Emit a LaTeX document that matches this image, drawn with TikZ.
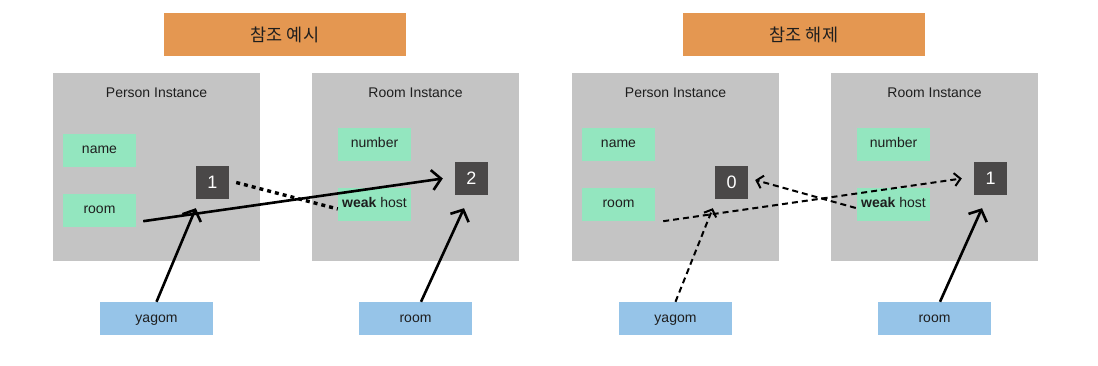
\documentclass[tikz,border=0pt]{standalone}
\usepackage{fontspec}
\setmainfont{Liberation Sans}
\newfontfamily\krfont{Noto Sans CJK KR}
\usetikzlibrary{arrows.meta}
\definecolor{titleorange}{HTML}{E49751}
\definecolor{boxgray}{HTML}{C4C4C4}
\definecolor{fieldgreen}{HTML}{93E6BF}
\definecolor{varblue}{HTML}{96C4E8}
\definecolor{countgray}{HTML}{4A4848}
\definecolor{textdark}{HTML}{1E1E1E}
\tikzset{
  every picture/.style={x=1pt, y=-1pt, line join=round},
  titlebox/.style={fill=titleorange, minimum width=242pt, minimum height=43pt, inner sep=0pt, text=textdark, font=\fontsize{17.5}{20}\selectfont\krfont},
  instance/.style={fill=boxgray, minimum width=207pt, minimum height=188pt, inner sep=0pt},
  caption/.style={text=textdark, inner sep=0pt, font=\fontsize{14}{16}\selectfont},
  field/.style={fill=fieldgreen, minimum width=73pt, minimum height=33pt, inner sep=0pt, text height=8pt, text depth=1pt, text=textdark, font=\fontsize{14}{16}\selectfont},
  counter/.style={fill=countgray, minimum size=33pt, inner sep=0pt, text=white, font=\fontsize{18}{21}\selectfont},
  varbox/.style={fill=varblue, minimum width=113pt, minimum height=33pt, inner sep=0pt, text height=8pt, text depth=1pt, text=textdark, font=\fontsize{14}{16}\selectfont},
  strong/.style={line width=2.6pt, -{Straight Barb[length=9pt,width=20pt,line width=2.6pt]}},
  weakdots/.style={line width=3.4pt, dash pattern=on 4pt off 4pt},
  released/.style={line width=2pt, dash pattern=on 6pt off 4pt, -{Straight Barb[length=6pt,width=13pt,line width=2pt]}},
}

\begin{document}
\begin{tikzpicture}
\useasboundingbox (0,0) rectangle (1098,366);

% reference example
\node[titlebox] (title1) at (285,34.5) {참조 예시};
\node[instance] (person1) at (156.5,167) {};
\node[caption] (plabel1) at ([yshift=-20pt]person1.north) {Person Instance};
\node[instance] (roominst1) at (415.5,167) {};
\node[caption] (rlabel1) at ([yshift=-20pt]roominst1.north) {Room Instance};
\node[field] (pname1) at (99.5,150.5) {name};
\node[field] (proom1) at (99.5,210.5) {room};
\node[counter] (pcount1) at (212.5,182.5) {1};
\node[field] (rnumber1) at (374.5,144.5) {number};
\node[field] (rhost1) at (374.5,204.5) {\textbf{weak} host};
\node[counter] (rcount1) at (471.5,178.5) {2};
\node[varbox] (yagom1) at (156.5,318.5) {yagom};
\node[varbox] (room1) at (415.5,318.5) {room};

\draw[strong] ([xshift=7pt,yshift=6pt]proom1.south east) -- ([xshift=-12pt]rcount1.west);
\draw[strong] (yagom1.north) -- ([yshift=-9pt]pcount1.south west);
\draw[weakdots] ([xshift=7pt]pcount1.east) -- ([yshift=-4.5pt]rhost1.west);
\draw[strong] ([xshift=5.5pt]room1.north) -- ([xshift=-7.5pt,yshift=-13pt]rcount1.south);

% releasing the reference
\node[titlebox] (title2) at (804,34.5) {참조 해제};
\node[instance] (person2) at (675.5,167) {};
\node[caption] (plabel2) at ([yshift=-20pt]person2.north) {Person Instance};
\node[instance] (roominst2) at (934.5,167) {};
\node[caption] (rlabel2) at ([yshift=-20pt]roominst2.north) {Room Instance};
\node[field] (pname2) at (618.5,144.5) {name};
\node[field] (proom2) at (618.5,204.5) {room};
\node[counter] (pcount2) at (731.5,182.5) {0};
\node[field] (rnumber2) at (893.5,144.5) {number};
\node[field] (rhost2) at (893.5,204.5) {\textbf{weak} host};
\node[counter] (rcount2) at (990.5,178.5) {1};
\node[varbox] (yagom2) at (675.5,318.5) {yagom};
\node[varbox] (room2) at (934.5,318.5) {room};

\draw[released] ([xshift=8pt]proom2.south east) -- ([xshift=-12pt]rcount2.west);
\draw[released] (yagom2.north) -- ([xshift=-2pt,yshift=-9pt]pcount2.south west);
\draw[released] ([xshift=-1pt,yshift=-3.5pt]rhost2.west) -- ([xshift=7pt,yshift=2.5pt]pcount2.east);
\draw[strong] ([xshift=5.5pt]room2.north) -- ([xshift=-8.5pt,yshift=-13pt]rcount2.south);
\end{tikzpicture}
\end{document}
